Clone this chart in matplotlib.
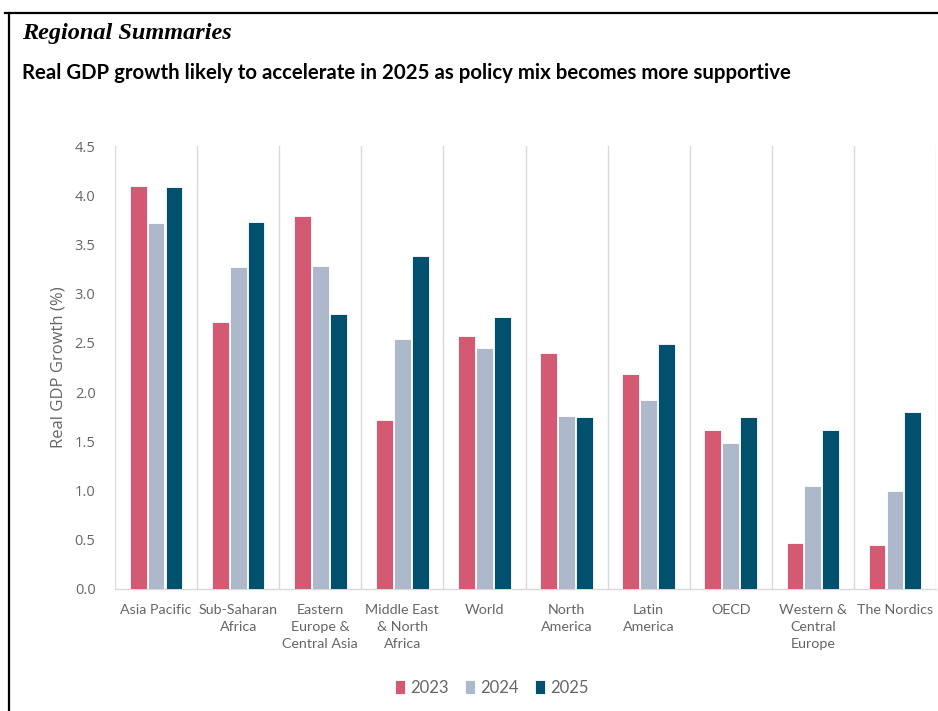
import numpy as np
import matplotlib.pyplot as plt
from matplotlib.lines import Line2D

# data
regions = ["Asia Pacific", "Sub-Saharan\nAfrica", "Eastern\nEurope &\nCentral Asia",
           "Middle East\n& North\nAfrica", "World", "North\nAmerica", "Latin\nAmerica",
           "OECD", "Western &\nCentral\nEurope", "The Nordics"]
years = ["2023", "2024", "2025"]
g2023 = [4.09, 2.71, 3.79, 1.72, 2.57, 2.40, 2.18, 1.62, 0.47, 0.45]
g2024 = [3.72, 3.27, 3.28, 2.54, 2.45, 1.76, 1.92, 1.48, 1.05, 1.00]
g2025 = [4.08, 3.73, 2.79, 3.38, 2.76, 1.75, 2.49, 1.75, 1.62, 1.80]
colors = ["#D45A73", "#ADB9CB", "#00506E"]

narrow = ["Lato", "DejaVu Sans"]
tick_gray = "#666666"

fig = plt.figure(figsize=(9.38, 7.11), dpi=100)
ax = fig.add_axes([115/938, 122/711, (936-115)/938, (589-146)/711])

x = np.arange(len(regions))
w = 0.205
step = 0.218
for i, vals in enumerate([g2023, g2024, g2025]):
    ax.bar(x + (i - 1)*step, vals, width=w, color=colors[i], edgecolor="white",
           linewidth=0.6, label=years[i], zorder=3)

ax.set_xlim(-0.5, len(regions) - 0.5)
ax.set_ylim(0, 4.5)
ax.set_yticks(np.arange(0, 4.51, 0.5))
ax.set_yticklabels([f"{v:.1f}" for v in np.arange(0, 4.51, 0.5)],
                   family=["Open Sans", "DejaVu Sans"], fontsize=10.5, color=tick_gray)
ax.set_xticks(x)
ax.set_xticklabels(regions, family=narrow, fontsize=10.3, color=tick_gray,
                   linespacing=1.5, va="top")
ax.tick_params(axis="both", length=0)
ax.tick_params(axis="x", pad=11)
ax.tick_params(axis="y", pad=14)

# category separators
for b in np.arange(-0.5, len(regions), 1.0):
    ax.axvline(b, color="#d9d9d9", linewidth=1, zorder=1)

for s in ["top", "right", "left"]:
    ax.spines[s].set_visible(False)
ax.spines["bottom"].set_color("#d9d9d9")
ax.spines["bottom"].set_linewidth(1)

ax.set_ylabel("Real GDP Growth (%)", family=["Open Sans", "DejaVu Sans"],
              fontsize=12, color=tick_gray, labelpad=6)

leg = fig.legend(loc="center", bbox_to_anchor=(492/938, 1 - 688/711), ncol=3,
                 frameon=False, handlelength=0.6, handleheight=0.9,
                 handletextpad=0.3, columnspacing=1.0,
                 prop={"family": narrow, "size": 12})
for t in leg.get_texts():
    t.set_color(tick_gray)

fig.text(22/938, 1 - 33/711, "Regional Summaries", family=["Liberation Serif", "DejaVu Serif"],
         style="italic", weight="bold", fontsize=17.5, va="center", ha="left")
fig.text(22/938, 1 - 73/711,
         "Real GDP growth likely to accelerate in 2025 as policy mix becomes more supportive",
         family=narrow, weight="bold", fontsize=14.7, va="center", ha="left")

# frame lines of the clipped box
fig.add_artist(Line2D([5/938, 1], [1 - 12.5/711, 1 - 12.5/711], color="black", linewidth=1.6))
fig.add_artist(Line2D([9/938, 9/938], [0, 1 - 12.5/711], color="black", linewidth=1.6))

fig.savefig("out.png", dpi=100)
